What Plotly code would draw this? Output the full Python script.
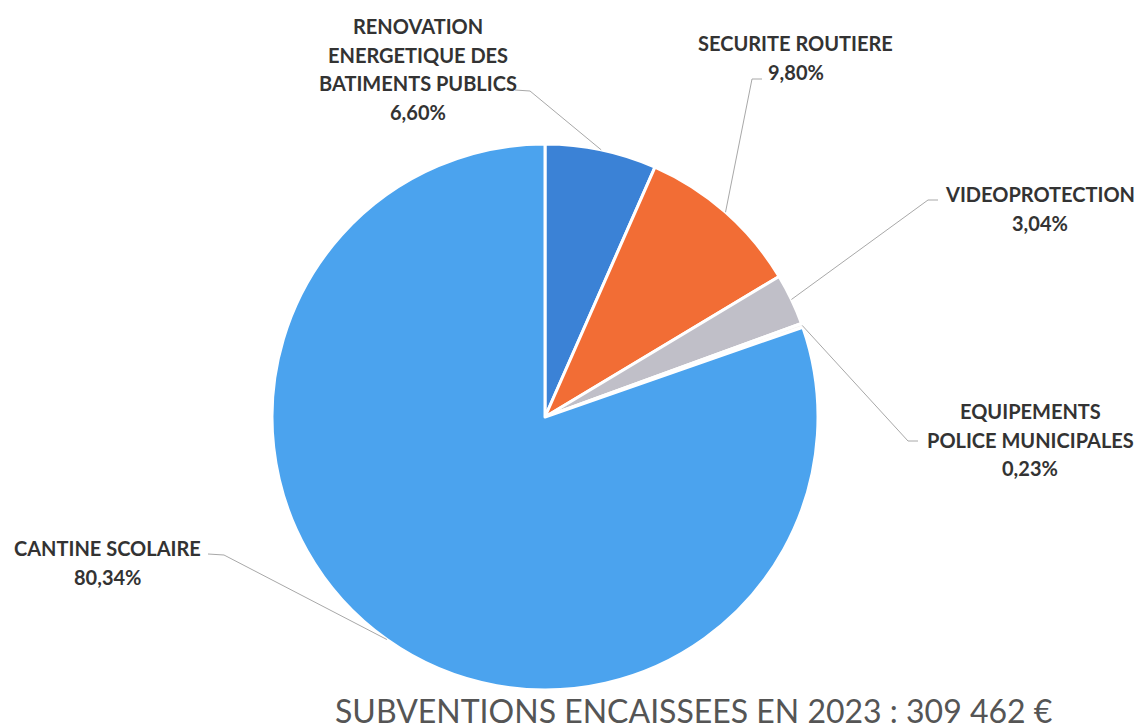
import math
import plotly.graph_objects as go

# Subsidy breakdown (percent of total received)
categories = [
    "RENOVATION ENERGETIQUE DES BATIMENTS PUBLICS",
    "SECURITE ROUTIERE",
    "VIDEOPROTECTION",
    "EQUIPEMENTS POLICE MUNICIPALES",
    "CANTINE SCOLAIRE",
]
shares = [6.60, 9.80, 3.04, 0.23, 80.34]
label_lines = [
    ["RENOVATION", "ENERGETIQUE DES", "BATIMENTS PUBLICS"],
    ["SECURITE ROUTIERE"],
    ["VIDEOPROTECTION"],
    ["EQUIPEMENTS", "POLICE MUNICIPALES"],
    ["CANTINE SCOLAIRE"],
]
total_text = "SUBVENTIONS ENCAISSEES EN 2023 : 309 462 €"

colors = ["#3B82D6", "#F26D35", "#C0BFC8", "#F4F4F4", "#4BA3EE"]

W, H = 1138, 725
CX, CY, R = 545, 417, 273   # pie centre and radius in pixels

# Label block placement (centre x, first-line y) and leader elbows, in pixels
label_pos = [(418, 26), (796, 43), (1040, 194), (1030, 411), (107, 548)]
leader_pts = [
    [(515, 90), (530, 91)],
    [(762, 79), (752, 79)],
    [(938, 200), (928, 200)],
    [(918, 441), (908, 441)],
    [(208, 554), (224, 555)],
]
LINE_GAP = 28.5


def px(x):
    return x / W


def py(y):
    return 1 - y / H


def fmt_pct(v):
    return f"{v:.2f}".replace(".", ",") + "%"


fig = go.Figure(
    go.Pie(
        labels=categories,
        values=shares,
        sort=False,
        direction="clockwise",
        rotation=0,
        marker=dict(colors=colors, line=dict(color="white", width=3)),
        textinfo="none",
        hoverinfo="label+percent",
        domain=dict(x=[px(CX - R), px(CX + R)], y=[py(CY + R), py(CY - R)]),
        showlegend=False,
    )
)

annotations = []
shapes = []
total = sum(shares)
cum = 0.0
font = dict(family="Lato", size=20, color="#333333")
for i, v in enumerate(shares):
    mid = (cum + v / 2) / total * 2 * math.pi
    cum += v
    ex = CX + R * math.sin(mid)
    ey = CY - R * math.cos(mid)

    lx, ly = label_pos[i]
    lines = label_lines[i] + [fmt_pct(v)]
    for k, t in enumerate(lines):
        annotations.append(dict(
            x=px(lx), y=py(ly + k * LINE_GAP), xref="paper", yref="paper",
            text=f"<b>{t}</b>", showarrow=False, font=font,
            xanchor="center", yanchor="middle",
        ))

    (ax, ay), (bx, by) = leader_pts[i]
    path = f"M {px(ax)} {py(ay)} L {px(bx)} {py(by)} L {px(ex)} {py(ey)}"
    shapes.append(dict(type="path", xref="paper", yref="paper", path=path,
                       line=dict(color="#A8A8A8", width=1)))

annotations.append(dict(
    x=px(694), y=py(710), xref="paper", yref="paper",
    text=total_text, showarrow=False,
    font=dict(family="Lato", size=32, color="#555555"),
    xanchor="center", yanchor="middle",
))

fig.update_layout(
    width=W, height=H,
    margin=dict(l=0, r=0, t=0, b=0),
    paper_bgcolor="white", plot_bgcolor="white",
    annotations=annotations, shapes=shapes,
)

fig.write_html("out.html")
